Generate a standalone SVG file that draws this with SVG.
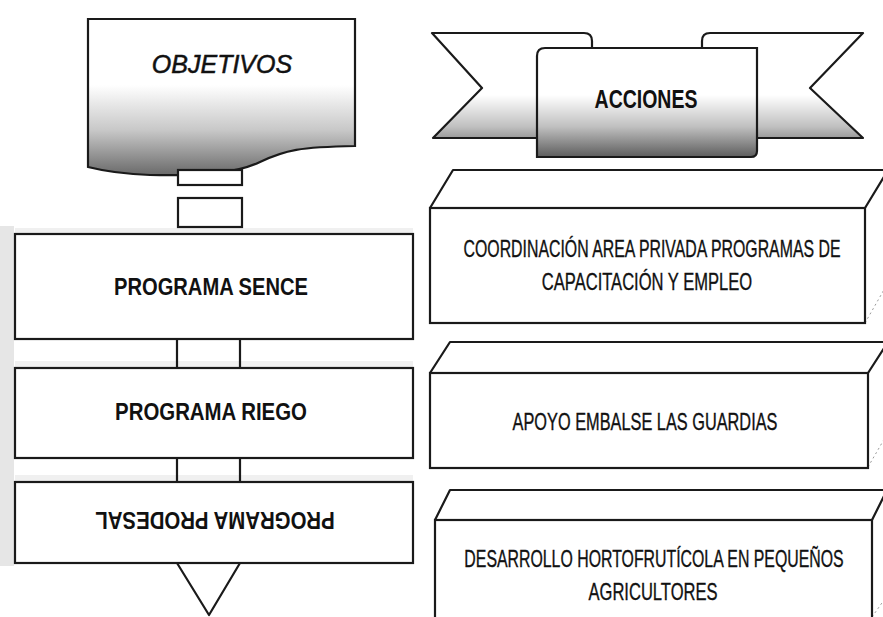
<svg xmlns="http://www.w3.org/2000/svg" width="883" height="617" viewBox="0 0 883 617">
<defs>
<linearGradient id="gObj" gradientUnits="userSpaceOnUse" x1="0" y1="85" x2="0" y2="175">
<stop offset="0" stop-color="#ffffff"/><stop offset="0.5" stop-color="#c8c8c8"/><stop offset="1" stop-color="#6a6a6a"/>
</linearGradient>
<linearGradient id="gRib" gradientUnits="userSpaceOnUse" x1="0" y1="95" x2="0" y2="158">
<stop offset="0" stop-color="#ffffff"/><stop offset="0.5" stop-color="#c0c0c0"/><stop offset="1" stop-color="#5a5a5a"/>
</linearGradient>
<style>
.ln{fill:none;stroke:#1a1a1a;stroke-width:2.2;stroke-linejoin:round}
.bx{fill:#ffffff;stroke:#1a1a1a;stroke-width:2.2}
.side{fill:none;stroke:#9a9a9a;stroke-width:1;stroke-dasharray:2 3}
.lt{font-family:"Liberation Sans",Arial,sans-serif;font-weight:bold;font-size:24px;fill:#111;text-anchor:middle}
.rt{font-family:"Liberation Sans",Arial,sans-serif;font-size:23px;fill:#111;stroke:#111;stroke-width:0.35;text-anchor:middle}
.strip{fill:#e6e6e6}
</style>
</defs>
<rect width="883" height="617" fill="#ffffff"/>
<rect class="strip" x="0" y="226" width="14" height="340"/>
<rect class="strip" x="15" y="228" width="398" height="5" opacity="0.6"/>
<rect class="strip" x="15" y="361" width="398" height="6" opacity="0.6"/>
<rect class="strip" x="15" y="475" width="398" height="6" opacity="0.6"/>

<g id="objetivos">
<path d="M88,19 H355 V146 C300,147 285,150 260,162 C235,174 200,176 150,175 C120,174 100,170 88,167 Z" fill="url(#gObj)" stroke="#1a1a1a" stroke-width="2.2"/>
<text x="222" y="73" font-family="Liberation Sans,Arial,sans-serif" font-style="italic" font-size="25" fill="#111" stroke="#111" stroke-width="0.5" text-anchor="middle">OBJETIVOS</text>
</g>

<g id="acciones">
<path d="M432,33 H590 V138 H433 L482,88 Z" fill="url(#gRib)" stroke="none"/>
<path d="M863,33 H704 V138 H863 L810,88 Z" fill="url(#gRib)" stroke="none"/>
<path class="ln" d="M537,138 H433 L482,88 L432,33 H584 Q592,33 592,41 V48"/>
<path class="ln" d="M757,138 H863 L810,88 L863,33 H710 Q702,33 702,41 V48"/>
<path d="M537,157 V56 Q537,48 545,48 H757 V151 Q757,157 751,157 Z" fill="url(#gRib)" stroke="#1a1a1a" stroke-width="2.2"/>
<text transform="translate(646,108) scale(0.78,1)" x="0" y="0" font-family="Liberation Sans,Arial,sans-serif" font-weight="bold" font-size="25" fill="#111" text-anchor="middle">ACCIONES</text>
</g>

<g id="connectors">
<rect class="bx" x="178" y="170" width="64" height="15"/>
<rect class="bx" x="178" y="198" width="64" height="29"/>
<path class="ln" d="M177,339 V368 M240,339 V368"/>
<path class="ln" d="M177,458 V482 M240,458 V482"/>
<path class="ln" d="M177,563 L209,615 L240,563"/>
</g>

<g id="prog-sence">
<rect class="bx" x="15" y="234" width="398" height="105"/>
<text class="lt" transform="translate(211,295) scale(0.84,1)" x="0" y="0">PROGRAMA SENCE</text>
</g>
<g id="prog-riego">
<rect class="bx" x="15" y="368" width="398" height="90"/>
<text class="lt" transform="translate(211,420) scale(0.85,1)" x="0" y="0">PROGRAMA RIEGO</text>
</g>
<g id="prog-prodesal">
<rect class="bx" x="15" y="482" width="398" height="81"/>
<text class="lt" transform="translate(215,512) rotate(180) scale(0.85,1)" x="0" y="0">PROGRAMA PRODESAL</text>
</g>

<g id="accion-1">
<path class="ln" d="M430,208 L453,170 H890 M865,208 L888,170"/>
<path class="side" d="M865,323 L885,288"/>
<rect class="bx" x="430" y="208" width="435" height="115"/>
<text class="rt" transform="translate(652,257) scale(0.69,1)" x="0" y="0">COORDINACIÓN AREA PRIVADA PROGRAMAS DE</text>
<text class="rt" transform="translate(647,290) scale(0.72,1)" x="0" y="0">CAPACITACIÓN Y EMPLEO</text>
</g>
<g id="accion-2">
<path class="ln" d="M430,373 L450,342 H890 M868,373 L888,342"/>
<path class="side" d="M868,467 L886,436"/>
<rect class="bx" x="430" y="373" width="438" height="95"/>
<text class="rt" transform="translate(645,430) scale(0.71,1)" x="0" y="0">APOYO EMBALSE LAS GUARDIAS</text>
</g>
<g id="accion-3">
<path class="ln" d="M435,520 L450,490 H890 M872,520 L887,490"/>
<path class="side" d="M872,617 L884,600"/>
<rect class="bx" x="435" y="520" width="437" height="110"/>
<text class="rt" transform="translate(654,567) scale(0.69,1)" x="0" y="0">DESARROLLO HORTOFRUTÍCOLA EN PEQUEÑOS</text>
<text class="rt" transform="translate(653,600) scale(0.72,1)" x="0" y="0">AGRICULTORES</text>
</g>
</svg>
